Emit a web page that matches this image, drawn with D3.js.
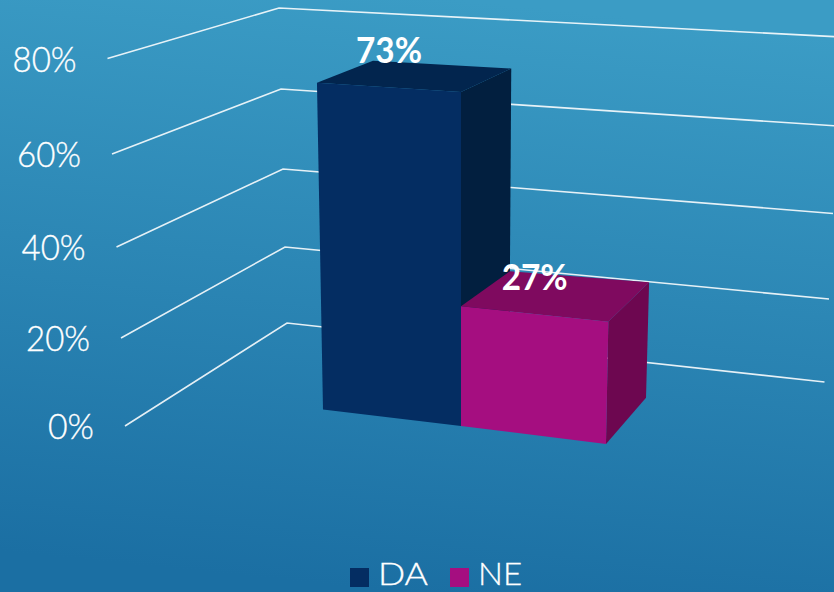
<!DOCTYPE html>
<html><head><meta charset="utf-8">
<script src="https://cdn.jsdelivr.net/npm/d3@7"></script>
<style>html,body{margin:0;padding:0;background:#2a85b5}svg{display:block}text{font-family:Lato,"Noto Sans",sans-serif}</style>
</head><body>
<div id="chart"></div>
<script>
const categories = ["DA", "NE"];
const seriesValues = [73, 27];
const tickValues = [0, 20, 40, 60, 80];
const tickLabels = ["0%", "20%", "40%", "60%", "80%"];
const frontColors = ["#042d62", "#a50e80"];
const sideColors = ["#021f3f", "#6d0750"];
const topColors = ["#02254e", "#7f0a5f"];

const W = 834, H = 592;
const svg = d3.select("#chart").append("svg").attr("width", W).attr("height", H);

const grad = svg.append("defs").append("linearGradient").attr("id", "bg")
  .attr("gradientUnits", "userSpaceOnUse")
  .attr("x1", 460).attr("y1", 0).attr("x2", 400).attr("y2", 592);
grad.append("stop").attr("offset", 0).attr("stop-color", "#3b9cc5");
grad.append("stop").attr("offset", 1).attr("stop-color", "#1b6fa3");
svg.append("rect").attr("width", W).attr("height", H).attr("fill", "url(#bg)");

// Perspective wall/floor: one scale per gridline vertex column
const leftX = d3.scaleLinear().domain(tickValues).range([125, 121, 116.5, 112, 107.5]);
const leftY = d3.scaleLinear().domain(tickValues).range([426, 338, 247, 154, 58.5]);
const cornerX = d3.scaleLinear().domain(tickValues).range([287, 285, 283, 281, 279]);
const cornerY = d3.scaleLinear().domain(tickValues).range([323, 247, 169, 89, 8]);
const rightX = d3.scaleLinear().domain(tickValues).range([824.5, 829, 833, 837, 841]);
const rightY = d3.scaleLinear().domain(tickValues).range([382, 299, 213.5, 126, 37]);

const line = d3.line();
svg.append("g").selectAll("path").data(tickValues).join("path")
  .attr("d", t => line([[leftX(t), leftY(t)], [cornerX(t), cornerY(t)], [rightX(t), rightY(t)]]))
  .attr("fill", "none").attr("stroke", "#fff").attr("stroke-opacity", 0.88).attr("stroke-width", 1.6);

svg.append("g").selectAll("text").data(tickValues).join("text")
  .attr("x", t => leftX(t) - 31)
  .attr("y", t => leftY(t) + 13)
  .attr("text-anchor", "end").attr("fill", "#fff")
  .attr("stroke", "#fff").attr("stroke-width", 0.35)
  .style("font-size", "36px").style("font-weight", 300)
  .attr("textLength", (t, i) => i === 0 ? 46 : 64).attr("lengthAdjust", "spacingAndGlyphs")
  .text((t, i) => tickLabels[i]);

// Bars: projection of (u along category axis, depth 0/1, value)
const band = d3.scaleBand().domain(categories).range([0, 1]);
const baseX = d3.scaleLinear().domain([0, .5, 1]).range([323, 461, 606]);
const baseY = d3.scaleLinear().domain([0, .5, 1]).range([409.5, 426, 444]);
const heightK = d3.scaleLinear().domain([0, .5, 1]).range([.978, 1, 1.02]);
const heightPx = d3.scaleLinear().domain(tickValues).range(tickValues.map(t => leftY(0) - leftY(t)));
const depthX = d3.scaleLinear().domain([0, .5, 1]).range([54, 48.2, 40]);
const depthY = d3.scaleLinear().domain([0, .5, 1]).range([-40.4, -41.8, -46.2]);

function project(u, depth, value) {
  const bx = baseX(u);
  const x = baseX(.5) + (bx - baseX(.5)) * (1 + .0006 * value);
  const y = baseY(u) - heightK(u) * heightPx(value);
  return [x + depth * (depthX(u) + .028 * value), y + depth * (depthY(u) + .252 * value)];
}
const poly = pts => line(pts) + "Z";

const bars = svg.append("g").selectAll("g").data(categories).join("g");
bars.each(function (c, i) {
  const g = d3.select(this), v = seriesValues[i];
  const u0 = band(c), u1 = u0 + band.bandwidth();
  g.append("path").attr("fill", sideColors[i])
    .attr("d", poly([project(u1, 0, 0), project(u1, 1, 0), project(u1, 1, v), project(u1, 0, v)]));
  g.append("path").attr("fill", topColors[i])
    .attr("d", poly([project(u0, 0, v), project(u1, 0, v), project(u1, 1, v), project(u0, 1, v)]));
  g.append("path").attr("fill", frontColors[i])
    .attr("d", poly([project(u0, 0, 0), project(u1, 0, 0), project(u1, 0, v), project(u0, 0, v)]));
});

// Value labels, centred over each front face
const labelPos = (c, i) => project(band(c) + band.bandwidth() / 2, 0, seriesValues[i]);
svg.append("g").selectAll("text").data(categories).join("text")
  .attr("x", (c, i) => labelPos(c, i)[0])
  .attr("y", (c, i) => labelPos(c, i)[1] - 24)
  .attr("text-anchor", "middle").attr("fill", "#fff")
  .style("font-size", "36px").style("font-weight", 700)
  .attr("textLength", 66).attr("lengthAdjust", "spacingAndGlyphs")
  .text((c, i) => seriesValues[i] + "%");

// Legend
const legendX = d3.scaleOrdinal().domain(categories).range([350, 450]);
const legendW = d3.scaleOrdinal().domain(categories).range([50, 44]);
const legend = svg.append("g").selectAll("g").data(categories).join("g");
legend.append("rect").attr("x", c => legendX(c)).attr("y", 568).attr("width", 19).attr("height", 19)
  .attr("fill", (c, i) => frontColors[i]);
legend.append("text").attr("x", c => legendX(c) + 28).attr("y", 585.4)
  .attr("fill", "#fff").attr("stroke", "#fff").attr("stroke-width", 0.3)
  .style("font-size", "31px").style("font-weight", 300)
  .attr("textLength", c => legendW(c)).attr("lengthAdjust", "spacingAndGlyphs")
  .text(c => c);
</script>
</body></html>
